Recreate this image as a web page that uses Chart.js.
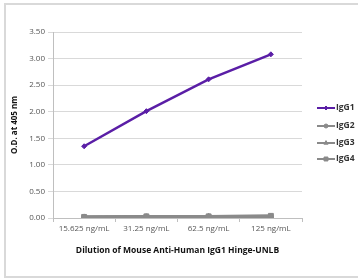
<!DOCTYPE html>
<html><head><meta charset="utf-8">
<script src="https://cdn.jsdelivr.net/npm/chart.js@4/dist/chart.umd.min.js"></script>
<style>
html,body{margin:0;padding:0;background:#fff;overflow:hidden;}
#wrap{position:absolute;left:0;top:0;width:358px;height:278px;}
#frame{position:absolute;left:4px;top:3px;width:400px;height:271px;border:2px solid #d9d9d9;border-right:none;box-sizing:content-box;}
canvas{position:absolute;left:0;top:0;}
</style></head>
<body>
<div id="wrap"><div id="frame"></div><canvas id="c" width="358" height="278"></canvas></div>
<script>
const categories = ['15.625 ng/mL', '31.25 ng/mL', '62.5 ng/mL', '125 ng/mL'];
const seriesNames = ['IgG1', 'IgG2', 'IgG3', 'IgG4'];
const igg1 = [1.35, 2.01, 2.61, 3.08];
const igg2 = [0.02, 0.03, 0.03, 0.03];
const igg3 = [0.02, 0.02, 0.03, 0.03];
const igg4 = [0.02, 0.03, 0.03, 0.04];
const yTicks = [0, 0.5, 1, 1.5, 2, 2.5, 3, 3.5];
const xTitle = 'Dilution of Mouse Anti-Human IgG1 Hinge-UNLB';
const yTitle = 'O.D. at 405 nm';

const purple = '#5a1ea6';
const gray = '#8a8a8a';
const styles = [
  {color: purple, point: 'rectRot', r: 2.5},
  {color: gray, point: 'circle', r: 2.5},
  {color: gray, point: 'triangle', r: 3},
  {color: gray, point: 'rect', r: 3.5}
];
const allData = [igg1, igg2, igg3, igg4];

const datasets = allData.map((d, i) => ({
  label: seriesNames[i],
  data: d,
  borderColor: styles[i].color,
  backgroundColor: styles[i].color,
  borderWidth: i === 0 ? 2.5 : 3,
  pointStyle: styles[i].point,
  pointRadius: styles[i].r,
  pointBorderWidth: 1,
  tension: 0
}));

const legendPlugin = {
  id: 'sideLegend',
  afterDraw(chart) {
    const ctx = chart.ctx;
    const ys = [108, 126, 143, 159];
    ctx.save();
    chart.data.datasets.forEach((ds, i) => {
      const y = ys[i];
      ctx.strokeStyle = ds.borderColor;
      ctx.lineWidth = 2;
      ctx.beginPath(); ctx.moveTo(317, y); ctx.lineTo(335, y); ctx.stroke();
      ctx.fillStyle = ds.borderColor;
      ctx.strokeStyle = ds.borderColor;
      ctx.lineWidth = 1;
      Chart.helpers.drawPoint(ctx, {pointStyle: ds.pointStyle, radius: ds.pointRadius * 0.8, borderWidth: 1, rotation: 0}, 326, y);
      ctx.fillStyle = '#333';
      ctx.font = 'bold 8.5px "Open Sans"';
      ctx.textBaseline = 'middle';
      ctx.textAlign = 'left';
      ctx.fillText(ds.label, 336, y);
    });
    ctx.restore();
  }
};

new Chart(document.getElementById('c'), {
  type: 'line',
  data: {labels: categories, datasets},
  options: {
    responsive: false,
    animation: false,
    devicePixelRatio: 1,
    layout: {padding: {top: 32, right: 56, bottom: 22, left: 10}},
    plugins: {legend: {display: false}, tooltip: {enabled: false}},
    scales: {
      x: {
        offset: true,
        grid: {display: true, drawOnChartArea: false, offset: true, tickLength: 4, color: '#bfbfbf'},
        border: {color: '#bfbfbf', width: 1},
        ticks: {color: '#555', font: {family: 'Open Sans', size: 8}, padding: 2, maxRotation: 0},
        title: {display: true, text: xTitle, color: '#111', font: {family: 'Open Sans', size: 8.5, weight: 'bold'}, padding: {top: 8, bottom: 0}},
        afterFit(s) { s.height = 38; }
      },
      y: {
        min: 0, max: 3.5,
        afterBuildTicks(s) { s.ticks = yTicks.map(v => ({value: v})); },
        grid: {color: '#d9d9d9', tickLength: 5, lineWidth: 1},
        border: {color: '#bfbfbf', width: 1},
        ticks: {color: '#555', font: {family: 'Open Sans', size: 8}, padding: 3, callback: v => Number(v).toFixed(2)},
        title: {display: true, text: yTitle, color: '#111', font: {family: 'Open Sans', size: 8, weight: 'bold'}, padding: {top: 0, bottom: 2}},
        afterFit(s) { s.width = 43; }
      }
    }
  },
  plugins: [legendPlugin]
});
</script>
</body></html>
